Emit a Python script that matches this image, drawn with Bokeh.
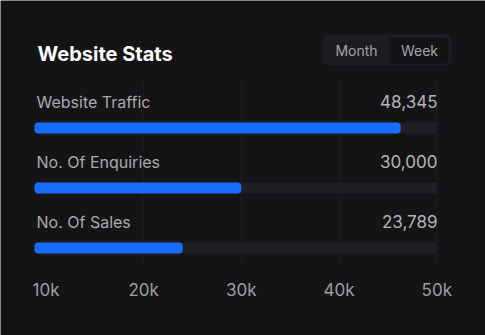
from bokeh.plotting import figure
from bokeh.models import Range1d
from bokeh.core.properties import value
from bokeh.embed import file_html
from bokeh.resources import INLINE

# ---- data ----
title = "Website Stats"
toggle_labels = ["Month", "Week"]
categories = ["Website Traffic", "No. Of Enquiries", "No. Of Sales"]
values = [48345, 30000, 23789]
value_labels = ["48,345", "30,000", "23,789"]
bar_ends = [46300, 30000, 24000]          # bar lengths as drawn in the picture
track_min = 8820
track_max = 50070
axis_ticks = [10000, 20000, 30000, 40000, 50000]
axis_tick_labels = ["10k", "20k", "30k", "40k", "50k"]
grid_ticks = [20000, 30000, 40000, 50000]

# ---- style ----
BG = "#141417"
TRACK = "#1e1f22"
BLUE = "#176cfb"
FONT = "Inter"
DY = -6.5   # baseline correction for text glyphs

W, H = 485, 335

p = figure(width=W, height=H, x_range=Range1d(5343, 54985), y_range=Range1d(H, 0),
           x_axis_type=None, y_axis_type=None, toolbar_location=None,
           output_backend="svg", min_border=0)
p.extra_x_ranges = {"px": Range1d(0, W)}
p.background_fill_color = BG
p.border_fill_color = BG
p.outline_line_color = None
p.xgrid.visible = False
p.ygrid.visible = False

# gridlines
p.segment(x0=grid_ticks, x1=grid_ticks, y0=78, y1=263, line_color="#222327",
          line_width=1, line_dash="4 3")

# axis tick labels (placed on the value scale)
p.text(x=axis_ticks, y=[296 + DY] * len(axis_ticks), text=axis_tick_labels,
       text_font=value(FONT), text_font_size="17px", text_color="#9e9ea2",
       text_baseline="alphabetic", text_align="center")

# rows
n = len(categories)
row_top, row_gap = 127.5, 60
ys = [row_top + row_gap * i for i in range(n)]
label_ys = [y - 20 + DY for y in ys]

p.hbar(y=ys, left=track_min, right=track_max, height=11, fill_color=TRACK,
       line_color=None, border_radius=3)
p.hbar(y=ys, left=track_min, right=bar_ends, height=11, fill_color=BLUE,
       line_color=None, border_radius=4)

p.text(x=[36] * n, y=label_ys, text=categories, x_range_name="px",
       text_font=value(FONT), text_font_size="16px", text_color="#a9a9ad",
       text_baseline="alphabetic", text_align="left")
p.text(x=[track_max] * n, y=label_ys, text=value_labels,
       text_font=value(FONT), text_font_size="17px", text_color="#b4b4b8",
       text_baseline="alphabetic", text_align="right")

# title
p.text(x=[37], y=[60 + DY], text=[title], x_range_name="px",
       text_font=value(FONT), text_font_size="20px", text_font_style="bold",
       text_color="#ffffff", text_baseline="alphabetic", text_align="left")

# toggle
p.quad(left=[322], right=[451], top=[34], bottom=[65], x_range_name="px",
       fill_color="#1c1d20", line_color=None, border_radius=6)
p.quad(left=[389], right=[448], top=[37], bottom=[63], x_range_name="px",
       fill_color="#131316", line_color=None, border_radius=4)
p.text(x=[356, 419], y=[56.5 + DY, 56.5 + DY], text=toggle_labels, x_range_name="px",
       text_font=value(FONT), text_font_size="14px", text_color="#a3a3a7",
       text_baseline="alphabetic", text_align="center")

html = file_html(p, INLINE)
html = html.replace("<body>", '<body style="margin:0;background:%s">' % BG, 1)
open("out.html", "w").write(html)
